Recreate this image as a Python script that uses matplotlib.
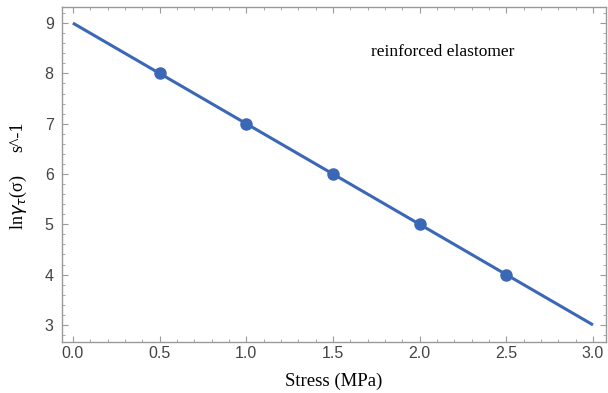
import matplotlib
matplotlib.use("Agg")
import matplotlib.pyplot as plt
import numpy as np
from matplotlib.ticker import MultipleLocator

stress_line = [0.0, 3.0]
lnrate_line = [9.0, 3.0]
stress_pts = [0.5, 1.0, 1.5, 2.0, 2.5]
lnrate_pts = [8.0, 7.0, 6.0, 5.0, 4.0]
xticks = [0.0, 0.5, 1.0, 1.5, 2.0, 2.5, 3.0]
xticklabels = ["0.0", "0.5", "1.0", "1.5", "2.0", "2.5", "3.0"]
yticks = [3, 4, 5, 6, 7, 8, 9]

color = "#3b68b6"
frame = "#9a9a9a"

fig = plt.figure(figsize=(6.08, 3.93), dpi=100)
ax = fig.add_axes([62/608, 1-342/393, (606-62)/608, (342-7)/393])

ax.plot(stress_line, lnrate_line, color=color, lw=2.2, solid_capstyle="butt")
ax.plot(stress_pts, lnrate_pts, "o", color=color, ms=8)

ax.set_xlim(-0.063, 3.075)
ax.set_ylim(2.66, 9.32)
ax.set_xticks(xticks)
ax.set_xticklabels(xticklabels)
ax.set_yticks(yticks)
ax.xaxis.set_minor_locator(MultipleLocator(0.1))
ax.yaxis.set_minor_locator(MultipleLocator(0.2))
for s in ax.spines.values():
    s.set_color(frame)
    s.set_linewidth(1.0)
ax.tick_params(which="both", direction="in", top=True, right=True, color=frame,
               labelsize=11.5, labelcolor="#444444")
ax.tick_params(which="major", length=4)
ax.tick_params(which="minor", length=2)
ax.tick_params(axis="x", pad=3, labeltop=False)
ax.tick_params(axis="y", pad=6, labelright=False)
for lab in ax.get_xticklabels() + ax.get_yticklabels():
    lab.set_family("Liberation Sans")

ax.set_xlabel("Stress (MPa)", family="Liberation Serif", fontsize=13.5, labelpad=8)
fig.text(18/608, 1-202/393, r"ln$\gamma_\tau$(σ)", rotation=90, ha="center", va="center",
         family="Liberation Serif", fontsize=13)
fig.text(18/608, 1-137/393, "s^-1", rotation=90, ha="center", va="center",
         family="Liberation Serif", fontsize=13)
ax.text(2.135, 8.43, "reinforced elastomer", family="Liberation Serif", fontsize=12.5,
        ha="center", va="center")

fig.savefig("out.png", dpi=100)
